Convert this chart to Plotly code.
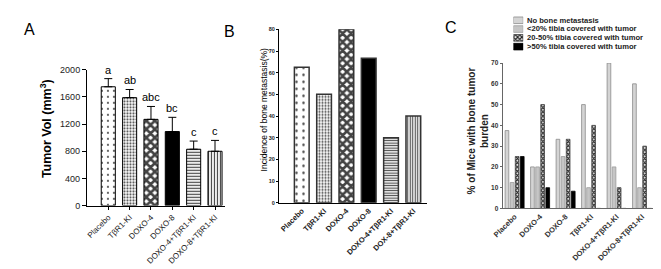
import plotly.graph_objects as go

W, H = 661, 269
FONT = "Liberation Sans"

# ---------------- data ----------------
a_categories = ["Placebo", "TβR1-KI", "DOXO-4", "DOXO-8", "DOXO-4+TβR1-KI", "DOXO-8+TβR1-KI"]
a_tumor_vol = [1750, 1590, 1270, 1090, 830, 800]
a_err_top = [1870, 1710, 1460, 1300, 950, 960]
a_letters = ["a", "ab", "abc", "bc", "c", "c"]
a_ticks = [0, 400, 800, 1200, 1600, 2000]

b_categories = ["Placebo", "TβR1-KI", "DOXO-4", "DOXO-8", "DOXO-4+TβR1-KI", "DOX-8+TβR1-KI"]
b_incidence = [62.5, 50, 80, 66.7, 30, 40]
b_ticks = [0, 10, 20, 30, 40, 50, 60, 70, 80]

c_categories = ["Placebo", "DOXO-4", "DOXO-8", "TβR1-KI", "DOXO-4+TβR1-KI", "DOXO-8+TβR1-KI"]
c_series_names = ["No bone metastasis", "<20% tibia covered with tumor",
                  "20-50% tibia covered with tumor", ">50% tibia covered with tumor"]
c_no_met = [37.5, 20, 33.3, 50, 70, 60]
c_lt20 = [12.5, 20, 25, 10, 20, 10]
c_20_50 = [25, 50, 33.3, 40, 10, 30]
c_gt50 = [25, 10, 8.3, 0, 0, 0]
c_ticks = [0, 10, 20, 30, 40, 50, 60, 70]

# ---------------- styles ----------------
ab_shapes = [".", ".", "x", "", "-", "|"]
ab_bg = ["white", "white", "white", "black", "white", "white"]
a_size = [6, 3, 6, 8, 3, 3]
a_sol = [0.1, 0.4, 0.68, 0.3, 0.4, 0.4]
b_size = [7, 3, 6, 8, 2.5, 2.5]
b_sol = [0.1, 0.4, 0.68, 0.3, 0.45, 0.45]

c_fill = ["#d4d4d4", "#e4e4e4", "#e8e8e8", "black"]
c_line = ["#8a8a8a", "#9a9a9a", "#404040", "black"]
c_shape = ["", "|", "x", ""]
c_fg = ["#d4d4d4", "#a0a0a0", "#202020", "black"]
c_psize = [4, 2, 3, 4]
c_psol = [0.3, 0.45, 0.6, 0.3]

def px_x(p):
    return p / W

def px_y(p):
    return (H - p) / H

fig = go.Figure()

fig.add_trace(go.Bar(
    x=list(range(len(a_categories))), y=a_tumor_vol, xaxis="x", yaxis="y",
    width=0.66,
    marker=dict(color=ab_bg, line=dict(color="black", width=1),
                pattern=dict(shape=ab_shapes, fgcolor="black", bgcolor=ab_bg,
                             size=a_size, solidity=a_sol, fgopacity=1)),
    error_y=dict(type="data", symmetric=False,
                 array=[t - v for t, v in zip(a_err_top, a_tumor_vol)],
                 arrayminus=[0] * len(a_tumor_vol),
                 color="black", thickness=1, width=4),
    showlegend=False, hoverinfo="skip"))

fig.add_trace(go.Bar(
    x=list(range(len(b_categories))), y=b_incidence, xaxis="x2", yaxis="y2",
    width=0.66,
    marker=dict(color=ab_bg, line=dict(color="#333", width=1.5),
                pattern=dict(shape=ab_shapes, fgcolor="black", bgcolor=ab_bg,
                             size=b_size, solidity=b_sol, fgopacity=1)),
    showlegend=False, hoverinfo="skip"))

c_series = [c_no_met, c_lt20, c_20_50, c_gt50]
for i, vals in enumerate(c_series):
    fig.add_trace(go.Bar(
        x=list(range(len(c_categories))), y=vals, xaxis="x3", yaxis="y3",
        width=0.145, offset=-0.37 + 0.2 * i, name=c_series_names[i],
        marker=dict(color=c_fill[i], line=dict(color=c_line[i], width=0.8),
                    pattern=dict(shape=c_shape[i], fgcolor=c_fg[i], bgcolor=c_fill[i],
                                 size=c_psize[i], solidity=c_psol[i], fgopacity=1)),
        showlegend=False, hoverinfo="skip"))

for i, nm in enumerate(c_series_names):
    fig.add_trace(go.Bar(
        x=[1], y=[i], orientation="h", xaxis="x4", yaxis="y4", width=0.75,
        marker=dict(color=c_fill[i], line=dict(color=c_line[i], width=0.8),
                    pattern=dict(shape=c_shape[i], fgcolor=c_fg[i], bgcolor=c_fill[i],
                                 size=c_psize[i], solidity=c_psol[i], fgopacity=1)),
        showlegend=False, hoverinfo="skip"))

def axis_common(color="black"):
    return dict(showgrid=False, zeroline=False, showline=True, linecolor=color, mirror=False)

annotations = []
for i, (t, l) in enumerate(zip(a_err_top, a_letters)):
    annotations.append(dict(x=i, y=t, xref="x", yref="y", text=l, showarrow=False,
                            yanchor="bottom", yshift=1,
                            font=dict(family=FONT, size=11, color="black")))

for txt, xp, yp in [("A", 12, 17), ("B", 215, 19), ("C", 440, 15)]:
    annotations.append(dict(x=px_x(xp), y=px_y(yp), xref="paper", yref="paper", text=txt,
                            showarrow=False, xanchor="center", yanchor="middle",
                            font=dict(family=FONT, size=16, color="black")))

annotations.append(dict(x=px_x(28), y=px_y(120), xref="paper", yref="paper",
                        text="<b>Tumor Vol (mm<sup>3</sup>)</b>", textangle=-90,
                        showarrow=False, xanchor="center", yanchor="middle",
                        font=dict(family=FONT, size=12.5, color="black")))
annotations.append(dict(x=px_x(250), y=px_y(101), xref="paper", yref="paper",
                        text="Incidence of bone metastasis(%)", textangle=-90,
                        showarrow=False, xanchor="center", yanchor="middle",
                        font=dict(family=FONT, size=8.5, color="black")))
annotations.append(dict(x=px_x(468), y=px_y(122), xref="paper", yref="paper",
                        text="<b>% of Mice with bone tumor<br>burden</b>", textangle=-90,
                        showarrow=False, xanchor="center", yanchor="middle",
                        font=dict(family=FONT, size=10, color="#222")))

for i, nm in enumerate(c_series_names):
    annotations.append(dict(x=px_x(515), y=px_y(7.5 + 9 * i), xref="paper", yref="paper",
                            text="<b>" + nm + "</b>", showarrow=False,
                            xanchor="left", yanchor="middle",
                            font=dict(family=FONT, size=7.6, color="#222")))

fig.update_layout(
    width=W, height=H, margin=dict(l=0, r=0, t=0, b=0),
    paper_bgcolor="white", plot_bgcolor="white",
    font=dict(family=FONT, color="black"),
    showlegend=False,
    xaxis=dict(**axis_common(), domain=[px_x(70), px_x(210)], range=[-1.0, 5.46],
               tickvals=list(range(len(a_categories))), ticktext=a_categories,
               tickangle=-45, ticks="outside", ticklen=3, tickcolor="black",
               tickfont=dict(family=FONT, size=8, color="#222"), anchor="y"),
    yaxis=dict(**axis_common(), domain=[px_y(200), px_y(59)], range=[0, 2000],
               tickvals=a_ticks, ticks="outside", ticklen=4, tickcolor="black",
               tickfont=dict(family=FONT, size=9, color="#222"), anchor="x"),
    xaxis2=dict(**axis_common(), domain=[px_x(265), px_x(415)], range=[-1.02, 5.6],
                tickvals=list(range(len(b_categories))), ticktext=["<b>" + c + "</b>" for c in b_categories],
                tickangle=-45, ticks="", tickfont=dict(family=FONT, size=7.5, color="#222"),
                anchor="y2"),
    yaxis2=dict(**axis_common(), domain=[px_y(197), px_y(17)], range=[0, 80],
                tickvals=b_ticks, ticktext=["<b>%d</b>" % t for t in b_ticks],
                ticks="outside", ticklen=2, tickcolor="black",
                tickfont=dict(family=FONT, size=5.5, color="#222"), anchor="x2"),
    xaxis3=dict(**axis_common("#666"), domain=[px_x(492), px_x(645)], range=[-0.47, 5.44],
                tickvals=list(range(len(c_categories))), ticktext=["<b>" + c + "</b>" for c in c_categories],
                tickangle=-45, ticks="",
                tickfont=dict(family=FONT, size=7.5, color="#333"), anchor="y3"),
    yaxis3=dict(**axis_common("#666"), domain=[px_y(203), px_y(52)], range=[0, 70],
                tickvals=c_ticks, ticktext=["<b>%d</b>" % t for t in c_ticks],
                ticks="outside", ticklen=2, tickcolor="#666",
                tickfont=dict(family=FONT, size=6.5, color="#333"), anchor="x3"),
    xaxis4=dict(domain=[px_x(503), px_x(513)], range=[0, 1], visible=False, anchor="y4"),
    yaxis4=dict(domain=[px_y(39.5), px_y(3)], range=[3.5, -0.5], visible=False, anchor="x4"),
    annotations=annotations,
)

fig.write_html("out.html")
